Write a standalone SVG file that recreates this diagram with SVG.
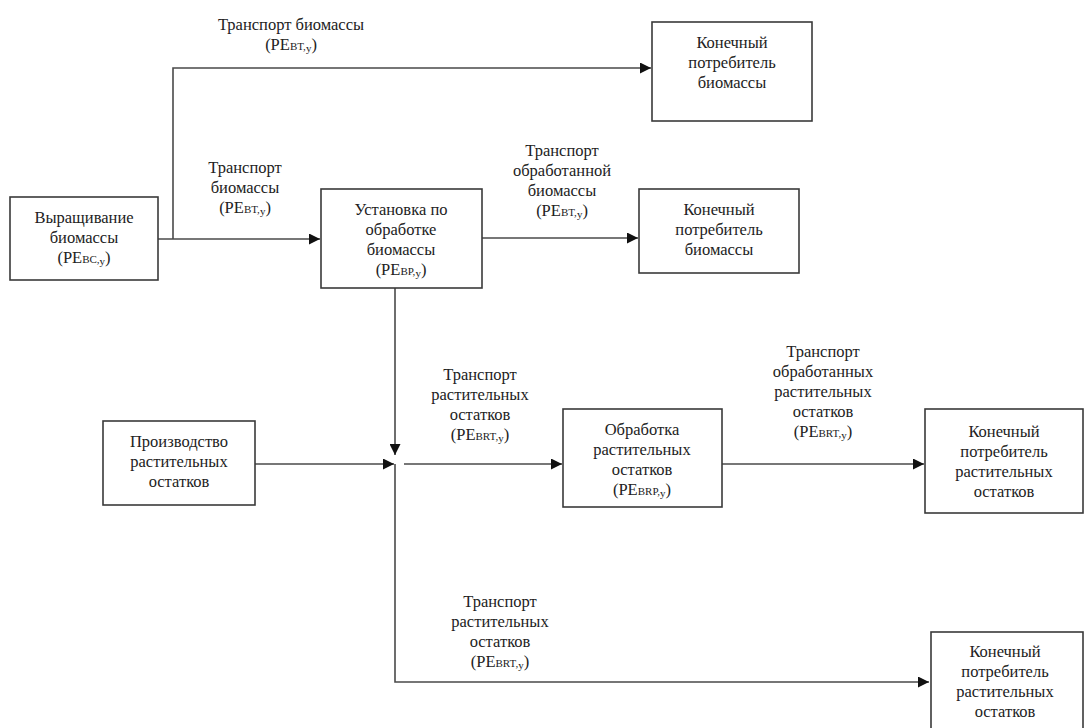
<svg xmlns="http://www.w3.org/2000/svg" width="1085" height="728" viewBox="0 0 1085 728">
<defs>
<style>
.box{fill:#fff;stroke:#3a3a3a;stroke-width:1.6}
.ln{fill:none;stroke:#4a4a4a;stroke-width:1.6}
.t{font-family:"Liberation Serif",Tinos,"Times New Roman",Times,"Noto Serif","DejaVu Serif",FreeSerif,serif}
.t text{font-size:16.5px;fill:#222;text-anchor:middle}
.s{font-size:11px}
</style>
<marker id="ar" viewBox="0 0 10 10" refX="10" refY="5" markerWidth="12" markerHeight="11" markerUnits="userSpaceOnUse" orient="auto">
<path d="M0,0 L10,5 L0,10 z" fill="#111"/>
</marker>
</defs>
<rect width="1085" height="728" fill="#fff"/>
<g id="connectors">
<path class="ln" d="M158,239 H320" marker-end="url(#ar)"/>
<path class="ln" d="M173,239 V68 H651" marker-end="url(#ar)"/>
<path class="ln" d="M482,238 H638" marker-end="url(#ar)"/>
<path class="ln" d="M395,288 V455" marker-end="url(#ar)"/>
<path class="ln" d="M255,464 H394" marker-end="url(#ar)"/>
<path class="ln" d="M404,464 H562" marker-end="url(#ar)"/>
<path class="ln" d="M722,464 H924" marker-end="url(#ar)"/>
<path class="ln" d="M395,464 V682 H929" marker-end="url(#ar)"/>
</g>
<g class="t">
<g id="labels">
<text x="291" y="30">Транспорт биомассы</text>
<text x="291" y="50">(PE<tspan class="s">BT,</tspan><tspan class="s" dy="2">y</tspan><tspan dy="-2">)</tspan></text>
<text x="245" y="173">Транспорт</text>
<text x="245" y="193">биомассы</text>
<text x="245" y="213">(PE<tspan class="s">BT,</tspan><tspan class="s" dy="2">y</tspan><tspan dy="-2">)</tspan></text>
<text x="562" y="156">Транспорт</text>
<text x="562" y="176">обработанной</text>
<text x="562" y="196">биомассы</text>
<text x="562" y="216">(PE<tspan class="s">BT,</tspan><tspan class="s" dy="2">y</tspan><tspan dy="-2">)</tspan></text>
<text x="480" y="380">Транспорт</text>
<text x="480" y="400">растительных</text>
<text x="480" y="420">остатков</text>
<text x="480" y="440">(PE<tspan class="s">BRT,</tspan><tspan class="s" dy="2">y</tspan><tspan dy="-2">)</tspan></text>
<text x="823" y="357">Транспорт</text>
<text x="823" y="377">обработанных</text>
<text x="823" y="397">растительных</text>
<text x="823" y="417">остатков</text>
<text x="823" y="437">(PE<tspan class="s">BRT,</tspan><tspan class="s" dy="2">y</tspan><tspan dy="-2">)</tspan></text>
<text x="500" y="607">Транспорт</text>
<text x="500" y="627">растительных</text>
<text x="500" y="647">остатков</text>
<text x="500" y="667">(PE<tspan class="s">BRT,</tspan><tspan class="s" dy="2">y</tspan><tspan dy="-2">)</tspan></text>
</g>
<g id="n-growing">
<rect class="box" x="10" y="197" width="148" height="83"/>
<text x="84" y="223">Выращивание</text>
<text x="84" y="243">биомассы</text>
<text x="84" y="263">(PE<tspan class="s">BC,</tspan><tspan class="s" dy="2">y</tspan><tspan dy="-2">)</tspan></text>
</g>
<g id="n-plant">
<rect class="box" x="321" y="189" width="161" height="99"/>
<text x="401" y="215">Установка по</text>
<text x="401" y="235">обработке</text>
<text x="401" y="255">биомассы</text>
<text x="401" y="275">(PE<tspan class="s">BP,</tspan><tspan class="s" dy="2">y</tspan><tspan dy="-2">)</tspan></text>
</g>
<g id="n-consumer1">
<rect class="box" x="652" y="22" width="160" height="99"/>
<text x="732" y="48">Конечный</text>
<text x="732" y="68">потребитель</text>
<text x="732" y="88">биомассы</text>
</g>
<g id="n-consumer2">
<rect class="box" x="639" y="189" width="160" height="84"/>
<text x="719" y="215">Конечный</text>
<text x="719" y="235">потребитель</text>
<text x="719" y="255">биомассы</text>
</g>
<g id="n-residues">
<rect class="box" x="103" y="421" width="152" height="84"/>
<text x="179" y="447">Производство</text>
<text x="179" y="467">растительных</text>
<text x="179" y="487">остатков</text>
</g>
<g id="n-processing">
<rect class="box" x="563" y="409" width="159" height="98"/>
<text x="642" y="435">Обработка</text>
<text x="642" y="455">растительных</text>
<text x="642" y="475">остатков</text>
<text x="642" y="495">(PE<tspan class="s">BRP,</tspan><tspan class="s" dy="2">y</tspan><tspan dy="-2">)</tspan></text>
</g>
<g id="n-consumer3">
<rect class="box" x="925" y="409" width="158" height="104"/>
<text x="1004" y="437">Конечный</text>
<text x="1004" y="457">потребитель</text>
<text x="1004" y="477">растительных</text>
<text x="1004" y="497">остатков</text>
</g>
<g id="n-consumer4">
<rect class="box" x="931" y="632" width="152" height="110"/>
<text x="1005" y="657">Конечный</text>
<text x="1005" y="677">потребитель</text>
<text x="1005" y="697">растительных</text>
<text x="1005" y="717">остатков</text>
</g>
</g>
</svg>
